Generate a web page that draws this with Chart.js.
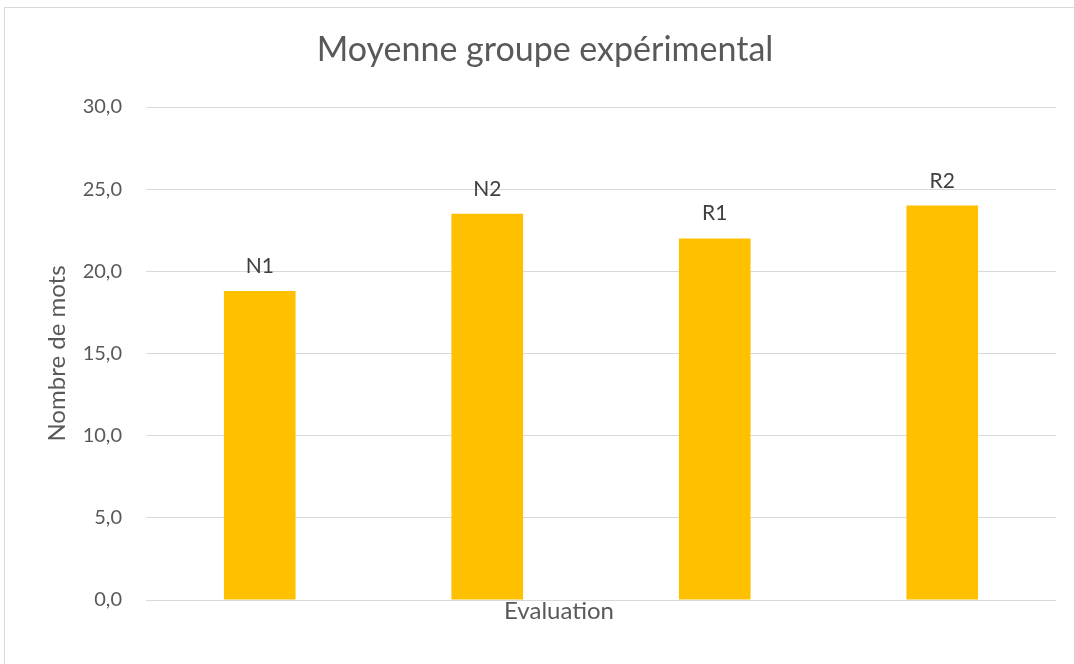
<!DOCTYPE html>
<html>
<head>
<meta charset="utf-8">
<script src="https://cdn.jsdelivr.net/npm/chart.js@4"></script>
<style>
  html, body { margin: 0; padding: 0; background: #fff; overflow: hidden; }
  #frame { position: absolute; left: 4px; top: 7px; width: 1090px; height: 680px; border: 1px solid #d9d9d9; }
  #wrap { position: absolute; left: 0; top: 0; width: 1074px; height: 664px; }
</style>
</head>
<body>
<div id="frame"></div>
<div id="wrap"><canvas id="chart"></canvas></div>
<script>
// Chart data
const categories = ['N1', 'N2', 'R1', 'R2'];
const moyennes = [18.8, 23.5, 22.0, 24.0];
const yTicks = [0, 5, 10, 15, 20, 25, 30];

const FONT = 'Lato, "Open Sans", sans-serif';

// Draws the title, axis titles and the category labels above the bars
const textPlugin = {
    id: 'texts',
    afterDraw(chart) {
        const { ctx, chartArea } = chart;
        const midX = (chartArea.left + chartArea.right) / 2;
        ctx.save();
        ctx.fillStyle = '#595959';
        ctx.textAlign = 'center';

        ctx.textBaseline = 'middle';
        ctx.font = '34px ' + FONT;
        ctx.fillText('Moyenne groupe expérimental', midX - 56, 50);

        ctx.textBaseline = 'alphabetic';
        ctx.font = '24px ' + FONT;
        ctx.fillText('Evaluation', midX - 42, chartArea.bottom + 19);

        ctx.save();
        ctx.translate(57, (chartArea.top + chartArea.bottom) / 2);
        ctx.rotate(-Math.PI / 2);
        ctx.textBaseline = 'middle';
        ctx.fillText('Nombre de mots', 0, 0);
        ctx.restore();

        ctx.fillStyle = '#404040';
        ctx.font = '21px ' + FONT;
        ctx.textBaseline = 'alphabetic';
        chart.getDatasetMeta(0).data.forEach((bar, i) => {
            ctx.fillText(categories[i], bar.x, bar.y - 18);
        });
        ctx.restore();
    }
};

new Chart(document.getElementById('chart'), {
    type: 'bar',
    data: {
        labels: categories,
        datasets: [{
            data: moyennes,
            backgroundColor: '#FFC000',
            barPercentage: 0.315,
            categoryPercentage: 1
        }]
    },
    options: {
        responsive: true,
        maintainAspectRatio: false,
        animation: false,
        layout: { padding: { top: 107, bottom: 64, right: 18, left: 0 } },
        plugins: {
            legend: { display: false },
            tooltip: { enabled: false }
        },
        scales: {
            x: { display: false },
            y: {
                min: 0,
                max: 30,
                afterBuildTicks(scale) {
                    scale.ticks = yTicks.map(v => ({ value: v }));
                },
                afterFit(scale) { scale.width = 146; },
                border: { display: false },
                grid: { color: '#d9d9d9', lineWidth: 1, drawTicks: false },
                ticks: {
                    padding: 24,
                    color: '#595959',
                    font: { family: FONT, size: 20 },
                    callback: v => v.toFixed(1).replace('.', ',')
                }
            }
        }
    },
    plugins: [textPlugin]
});
</script>
</body>
</html>
